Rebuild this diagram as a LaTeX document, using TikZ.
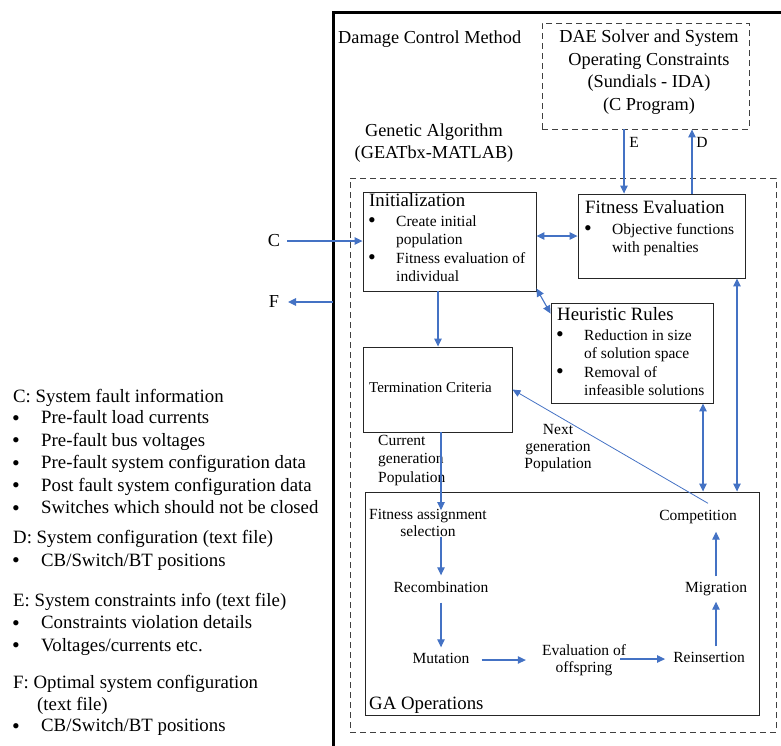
\documentclass[tikz,border=0pt]{standalone}
\usepackage{fontspec}
\setmainfont{Liberation Serif}
\usetikzlibrary{arrows.meta}
\definecolor{flow}{RGB}{68,114,196}
\begin{document}
\begin{tikzpicture}[x=1pt,y=-1pt,
  big/.style={font=\fontsize{18.3}{22}\selectfont},
  bigger/.style={font=\fontsize{18.8}{22}\selectfont},
  small/.style={font=\fontsize{15.5}{18}\selectfont},
  txt/.style={inner sep=0pt, anchor=mid west},
  ctxt/.style={inner sep=0pt, align=center},
  dot/.style={inner sep=0pt, font=\fontsize{22}{22}\selectfont},
  opitem/.style={small, inner sep=0pt, align=center, text height=10pt, text depth=3pt},
  optwo/.style={small, inner sep=0pt, align=center},
  box/.style={draw=black!85, line width=0.9pt, inner sep=0pt},
  dbox/.style={draw=black!75, line width=0.9pt, inner sep=0pt, dash pattern=on 6pt off 4pt},
  arr/.style={draw=flow, line width=1.1pt, -{Triangle[length=8pt,width=7.5pt]}},
  darr/.style={draw=flow, line width=1.1pt, {Triangle[length=8pt,width=7.5pt]}-{Triangle[length=8pt,width=7.5pt]}},
  thinarr/.style={draw=flow, line width=0.8pt, -{Triangle[length=8pt,width=7pt]}}
]
\useasboundingbox (0,0) rectangle (781,745);

% outer frame of the damage control method
\draw[line width=3pt] (333,746) -- (333,12) -- (782,12);
\node[big, txt] (dcm) at (338,41) {Damage Control Method};

% DAE solver block
\node[dbox, minimum width=207pt, minimum height=106pt] (dae) at (645.5,76) {};
\node[big, ctxt] (daetext) at (649,72) {DAE Solver and System\\[0.5pt] Operating Constraints\\[0.5pt] (Sundials - IDA)\\[0.5pt] (C Program)};

% genetic algorithm region
\node[big, ctxt] (gatitle) at (434,143) {Genetic Algorithm\\[0.5pt] (GEATbx-MATLAB)};
\node[dbox, minimum width=426pt, minimum height=554pt] (ga) at (563,455) {};

% main boxes
\node[box, minimum width=173pt, minimum height=99pt] (init) at (449.5,241.5) {};
\node[box, minimum width=167pt, minimum height=84pt] (fit) at (661.5,236) {};
\node[box, minimum width=162pt, minimum height=100pt] (heur) at (632,353) {};
\node[box, minimum width=149pt, minimum height=85pt] (term) at (437.5,389.5) {};
\node[box, minimum width=394pt, minimum height=223pt] (gaop) at (562,603.5) {};

% initialization contents
\node[bigger, txt] (initt) at (369,204) {Initialization};
\node[dot] (ib1) at (372,223) {•};
\node[small, txt] (ia1) at (396,224) {Create initial};
\node[small, txt] (ia2) at (396,242.5) {population};
\node[dot] (ib2) at (372,260) {•};
\node[small, txt] (ia3) at (396,261) {Fitness evaluation of};
\node[small, txt] (ia4) at (396,279.5) {individual};

% fitness evaluation contents
\node[bigger, txt] (fitt) at (585,211) {Fitness Evaluation};
\node[dot] (fb1) at (588,231) {•};
\node[small, txt] (fa1) at (612,232) {Objective functions};
\node[small, txt] (fa2) at (612,250.5) {with penalties};

% heuristic rules contents
\node[bigger, txt] (heurt) at (557,318.5) {Heuristic Rules};
\node[dot] (hb1) at (560,337) {•};
\node[small, txt] (ha1) at (584,338) {Reduction in size};
\node[small, txt] (ha2) at (584,356.5) {of solution space};
\node[dot] (hb2) at (560,374) {•};
\node[small, txt] (ha3) at (584,375) {Removal of};
\node[small, txt] (ha4) at (584,393.5) {infeasible solutions};

% termination
\node[txt, font=\fontsize{15}{18}\selectfont] (termt) at (369,390) {Termination Criteria};

% population labels
\node[small, txt] (cg1) at (378,443) {Current};
\node[small, txt] (cg2) at (378,461.5) {generation};
\node[small, txt] (cg3) at (378,480) {Population};
\node[small, ctxt] (ng) at (558,448) {Next\\[-1pt] generation\\[-1pt] Population};

% GA operations
\node[bigger, txt] (gaopt) at (369,707) {GA Operations};
\node[optwo] (fsel) at (428,523) {Fitness assignment\\[-1pt] selection};
\node[opitem] (rec) at (441,589) {Recombination};
\node[opitem] (mut) at (441,660) {Mutation};
\node[optwo] (eval) at (584,660) {Evaluation of\\[-1pt] offspring};
\node[opitem] (reins) at (709,659) {Reinsertion};
\node[opitem] (migr) at (716,589) {Migration};
\node[opitem] (comp) at (698,517) {Competition};

% external labels
\node[small, ctxt] (le) at (634,142) {E};
\node[small, ctxt] (ld) at (702,142) {D};
\node[big, ctxt] (lc) at (274,241) {C};
\node[big, ctxt] (lf) at (274,302) {F};
\coordinate (cin) at (287,241);
\coordinate (fout) at (288,302);
\coordinate (fstart) at (333,302);

% connectors
\draw[arr] (dae.south -| 624,0) -- (fit.north -| 624,0);
\draw[arr] (fit.north -| 692,0) -- (dae.south -| 692,0);
\draw[arr] (cin) -- (init.west |- cin);
\draw[arr] (fstart) -- (fout);
\draw[darr] (init.east |- 0,236) -- (fit.west |- 0,236);
\draw[darr] ([yshift=3pt]init.south east) -- ([yshift=-11pt]heur.north west);
\draw[arr] (init.south -| 438,0) -- (term.north -| 438,0);
\draw[arr] (term.south -| rec) -- ([yshift=-1pt]fsel.north -| rec);
\draw[darr] (heur.south -| 703,0) -- (gaop.north -| 703,0);
\draw[darr] (fit.south -| 737,0) -- (gaop.north -| 737,0);
\draw[thinarr] ([shift={(10pt,7pt)}]comp.north) -- (term.east);

\draw[arr, shorten >=7pt] (fsel.south -| rec) -- (rec.north);
\draw[arr, shorten <=7pt, shorten >=6pt] (rec.south) -- (mut.north);
\draw[arr, shorten <=12pt, shorten >=16pt] (mut.east) -- (mut.east -| eval.west);
\draw[arr, shorten <=-6pt, shorten >=8pt] (eval.east |- reins.west) -- (reins.west);
\draw[arr, shorten <=6pt, shorten >=6pt] (reins.north -| migr) -- (migr.south);
\draw[arr, shorten <=6pt, shorten >=8pt] (migr.north) -- (comp.south -| migr.north);

% legend on the left
\node[bigger, txt] (lgc) at (13,400) {C: System fault information};
\foreach \y/\t [count=\i] in {421.5/Pre-fault load currents, 444/Pre-fault bus voltages,
  466.5/Pre-fault system configuration data, 489/Post fault system configuration data,
  511.5/Switches which should not be closed}{
  \node[dot] (lcb\i) at (16,\y-1) {•};
  \node[bigger, txt] (lci\i) at (41,\y) {\t};
}
\node[bigger, txt] (lgd) at (13,541.5) {D: System configuration (text file)};
\node[dot] (ldb) at (16,563) {•};
\node[bigger, txt] (ldi) at (41,564) {CB/Switch/BT positions};
\node[bigger, txt] (lge) at (13,604.5) {E: System constraints info (text file)};
\node[dot] (leb1) at (16,625.5) {•};
\node[bigger, txt] (lei1) at (41,626.5) {Constraints violation details};
\node[dot] (leb2) at (16,648) {•};
\node[bigger, txt] (lei2) at (41,649) {Voltages/currents etc.};
\node[bigger, txt] (lgf) at (13,686.5) {F: Optimal system configuration};
\node[bigger, txt] (lgf2) at (37,708) {(text file)};
\node[dot] (lfb) at (16,728.5) {•};
\node[bigger, txt] (lfi) at (41,729.5) {CB/Switch/BT positions};
\end{tikzpicture}
\end{document}
